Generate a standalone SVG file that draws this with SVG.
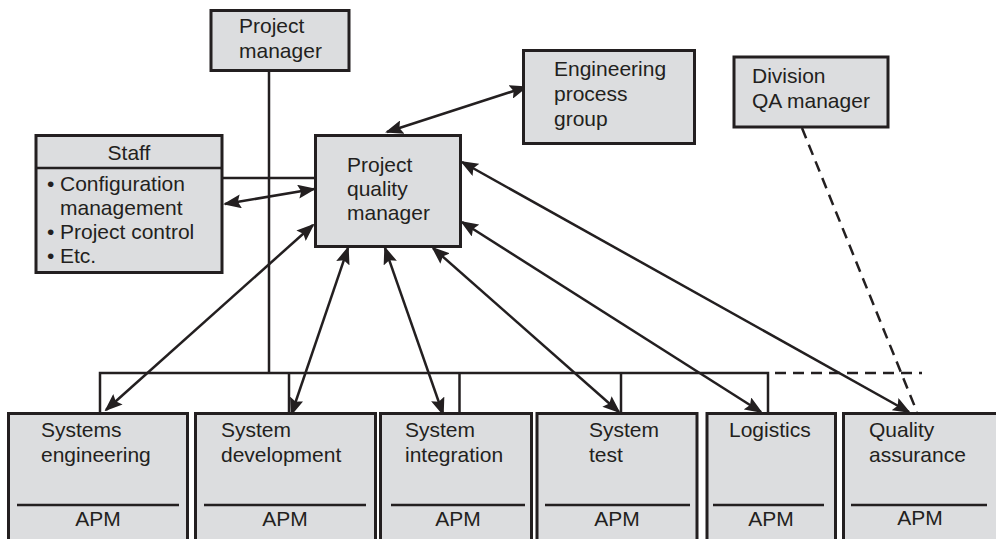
<svg xmlns="http://www.w3.org/2000/svg" width="996" height="539" viewBox="0 0 996 539">
<defs>
<marker id="ah" markerUnits="userSpaceOnUse" markerWidth="18" markerHeight="14" refX="16" refY="7" orient="auto-start-reverse" viewBox="0 0 18 14">
<path d="M0,0 L18,7 L0,14 L3,7 z" fill="#231f20"/>
</marker>
<style>
.box{fill:#dcdddf;stroke:#231f20;stroke-width:3}
.ln{stroke:#231f20;stroke-width:2.5;fill:none}
.dash{stroke:#231f20;stroke-width:2.5;fill:none;stroke-dasharray:11,7}
.arr{stroke:#231f20;stroke-width:2.5;fill:none;marker-start:url(#ah);marker-end:url(#ah)}
text{font-family:"Liberation Sans","Open Sans",sans-serif;font-size:21px;fill:#231f20}
.c{text-anchor:middle}
</style>
</defs>
<rect width="996" height="539" fill="#ffffff"/>
<g id="connectors">
<line class="ln" x1="269" y1="71" x2="269" y2="373"/>
<line class="ln" x1="222" y1="178" x2="315" y2="178"/>
<polyline class="ln" points="100,413 100,373 768,373 768,413"/>
<line class="ln" x1="289" y1="373" x2="289" y2="413"/>
<line class="ln" x1="459.5" y1="373" x2="459.5" y2="413"/>
<line class="ln" x1="621" y1="373" x2="621" y2="413"/>
<line class="dash" x1="775" y1="373" x2="922" y2="373"/>
<line class="dash" x1="802" y1="128" x2="917" y2="412"/>
<line class="arr" x1="225" y1="204" x2="314" y2="189"/>
<line class="arr" x1="387" y1="132" x2="526" y2="87"/>
<line class="arr" x1="106" y1="410" x2="313" y2="225"/>
<line class="arr" x1="291.5" y1="414" x2="348" y2="248"/>
<line class="arr" x1="385" y1="248" x2="443" y2="414"/>
<line class="arr" x1="433" y1="248" x2="619" y2="412"/>
<line class="arr" x1="462" y1="222" x2="761" y2="412"/>
<line class="arr" x1="462" y1="162" x2="909" y2="412"/>
</g>
<g id="project-manager">
<rect class="box" x="211" y="10.5" width="138" height="60"/>
<text x="239" y="33">Project</text>
<text x="239" y="58">manager</text>
</g>
<g id="staff">
<rect class="box" x="36" y="135.5" width="186" height="137"/>
<line class="ln" x1="36" y1="168" x2="222" y2="168"/>
<text class="c" x="129" y="160">Staff</text>
<text x="47" y="191">•<tspan x="60">Configuration</tspan></text>
<text x="60" y="215">management</text>
<text x="47" y="239">•<tspan x="60">Project control</tspan></text>
<text x="47" y="263">•<tspan x="60">Etc.</tspan></text>
</g>
<g id="project-quality-manager">
<rect class="box" x="315.5" y="135.5" width="145" height="111"/>
<text x="347" y="172">Project</text>
<text x="347" y="196">quality</text>
<text x="347" y="220">manager</text>
</g>
<g id="engineering-process-group">
<rect class="box" x="523.5" y="50.5" width="171" height="93"/>
<text x="554" y="76">Engineering</text>
<text x="554" y="101">process</text>
<text x="554" y="126">group</text>
</g>
<g id="division-qa-manager">
<rect class="box" x="734" y="57" width="154" height="70"/>
<text x="752" y="83">Division</text>
<text x="752" y="108">QA manager</text>
</g>
<g id="systems-engineering">
<rect class="box" x="8.5" y="413.5" width="179" height="140"/>
<line class="ln" x1="17" y1="505" x2="179" y2="505"/>
<text x="41" y="437">Systems</text>
<text x="41" y="462">engineering</text>
<text class="c" x="98" y="526">APM</text>
</g>
<g id="system-development">
<rect class="box" x="195.5" y="413.5" width="180" height="140"/>
<line class="ln" x1="204" y1="505" x2="366" y2="505"/>
<text x="221" y="437">System</text>
<text x="221" y="462">development</text>
<text class="c" x="285" y="526">APM</text>
</g>
<g id="system-integration">
<rect class="box" x="380.5" y="413.5" width="151" height="140"/>
<line class="ln" x1="391" y1="505" x2="525" y2="505"/>
<text x="405" y="437">System</text>
<text x="405" y="462">integration</text>
<text class="c" x="458" y="526">APM</text>
</g>
<g id="system-test">
<rect class="box" x="537" y="413.5" width="160" height="140"/>
<line class="ln" x1="545" y1="505" x2="690" y2="505"/>
<text x="589" y="437">System</text>
<text x="589" y="462">test</text>
<text class="c" x="617" y="526">APM</text>
</g>
<g id="logistics">
<rect class="box" x="707" y="413.5" width="128.5" height="140"/>
<line class="ln" x1="713" y1="505" x2="824" y2="505"/>
<text x="729" y="437">Logistics</text>
<text class="c" x="771" y="526">APM</text>
</g>
<g id="quality-assurance">
<rect class="box" x="843.5" y="413.5" width="160" height="140"/>
<line class="ln" x1="851" y1="505" x2="987" y2="505"/>
<text x="869" y="437">Quality</text>
<text x="869" y="462">assurance</text>
<text class="c" x="920" y="525">APM</text>
</g>
</svg>
